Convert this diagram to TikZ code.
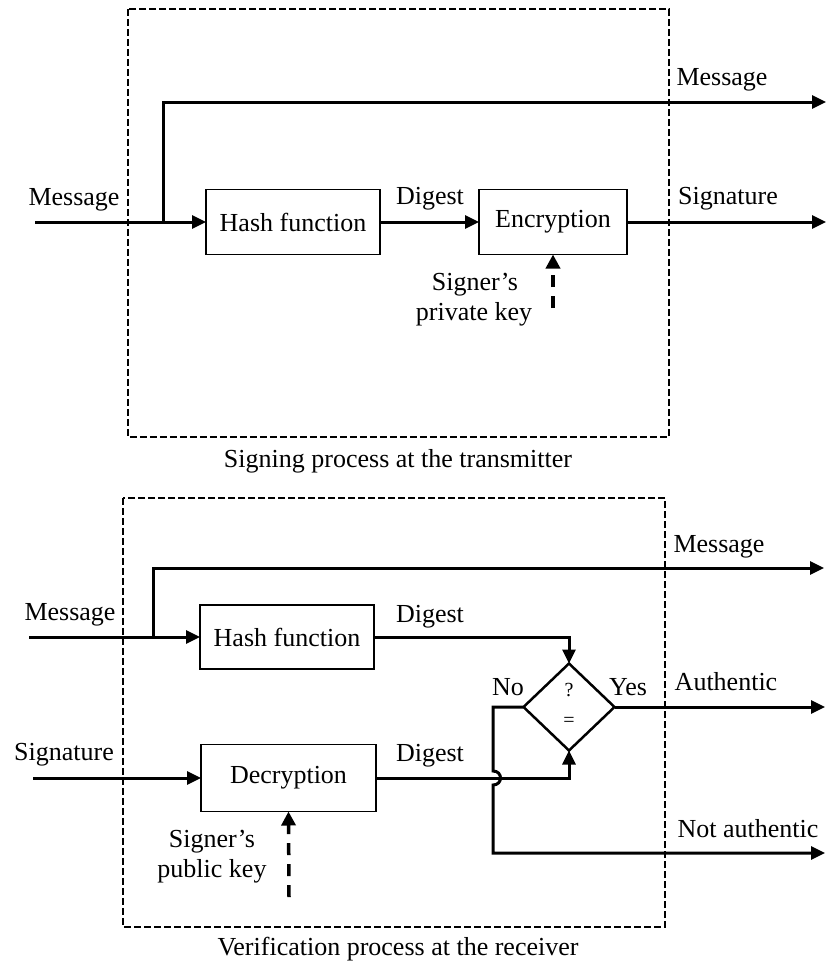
\documentclass[tikz,border=0pt]{standalone}
\usepackage{fontspec}
\setmainfont{Liberation Serif}
\usetikzlibrary{arrows.meta,shapes.geometric}
\begin{document}
\begin{tikzpicture}[x=1pt,y=-1pt,
  font=\fontsize{26}{30}\selectfont,
  every node/.style={inner sep=0pt, outer sep=0pt},
  lbl/.style={anchor=base},
  blk/.style={draw, line width=1.8pt, minimum height=65pt, align=center},
  flow/.style={line width=3pt, line join=miter, -{Triangle[length=14pt,width=13pt]}},
  frame/.style={line width=1.6pt, dash pattern=on 7pt off 3pt},
  keyline/.style={line width=3.5pt, dash pattern=on 12pt off 9pt, -{Triangle[length=14pt,width=14pt]}},
  small/.style={font=\fontsize{20}{22}\selectfont}]
\useasboundingbox (0,0) rectangle (827,964);

% ---------- Signing process ----------
\draw[frame] (128,9) rectangle (669,437);
\node[blk, minimum width=174pt] (hash1) at (293,222) {Hash function};
\node[blk, minimum width=148pt] (enc) at (553,222) {Encryption};
\coordinate (in1) at (35,222);
\coordinate (br1) at (163,222);
\coordinate (msg1out) at (826,102);
\coordinate (sigout) at (826,222);
\coordinate (key1) at (553,308);
\draw[flow] (in1) -- (hash1.west);
\draw[flow] (br1) |- (msg1out);
\draw[flow] (hash1.east) -- (enc.west);
\draw[flow] (enc.east) -- (sigout);
\draw[keyline] (key1) -- (enc.south);

\node[lbl] (lmsg1) at (74,205) {Message};
\node[lbl] (rmsg1) at (722,85) {Message};
\node[lbl] (rsig1) at (728,204) {Signature};
\node[lbl] (dig1) at (430,204) {Digest};
\node[lbl] (pk1a) at (475,290) {Signer’s};
\node[lbl] (pk1b) at (474,320) {private key};
\node[lbl] (cap1) at (398,467) {Signing process at the transmitter};

% ---------- Verification process ----------
\draw[frame] (123,498) rectangle (665,927);
\node[blk, minimum width=174pt, minimum height=64pt] (hash2) at (287,637) {Hash function};
\node[blk, minimum width=175pt, minimum height=67pt] (dec) at (288.5,778) {Decryption};
\node[draw, diamond, line width=2.5pt, minimum width=91pt, minimum height=87pt] (cmp) at (569,707) {};
\node[small] (q) at (569,690) {?};
\node[small] (eq) at (569,722) {=};

\coordinate (in2) at (29,637);
\coordinate (br2) at (153,637);
\coordinate (msg2out) at (824,568);
\coordinate (sigin) at (33,778);
\coordinate (autout) at (825,707);
\coordinate (noturn) at (493,707);
\coordinate (hopa) at (493,771);
\coordinate (hopb) at (493,785);
\coordinate (notout) at (825,853);
\coordinate (key2) at (289,897);

\draw[flow] (in2) -- (hash2.west);
\draw[flow] (br2) |- (msg2out);
\draw[flow] (hash2.east) -| (cmp.north);
\draw[flow] (sigin) -- (dec.west);
\draw[flow] (dec.east) -| (cmp.south);
\draw[flow] (cmp.east) -- (autout);
\draw[flow] (cmp.west) -- (noturn) -- (hopa) .. controls +(10,0) and +(10,0) .. (hopb) -- (noturn |- notout) -- (notout);
\draw[keyline] (key2) -- (dec.south);

\node[lbl] (lmsg2) at (70,620) {Message};
\node[lbl] (rmsg2) at (719,552) {Message};
\node[lbl] (dig2) at (430,622) {Digest};
\node[lbl] (no) at (508,695) {No};
\node[lbl] (yes) at (628,695) {Yes};
\node[lbl] (aut) at (726,690) {Authentic};
\node[lbl] (dig3) at (430,761) {Digest};
\node[lbl] (lsig) at (64,760) {Signature};
\node[lbl] (nota) at (748,837) {Not authentic};
\node[lbl] (pk2a) at (212,847) {Signer’s};
\node[lbl] (pk2b) at (212,877) {public key};
\node[lbl] (cap2) at (398,955) {Verification process at the receiver};
\end{tikzpicture}
\end{document}
